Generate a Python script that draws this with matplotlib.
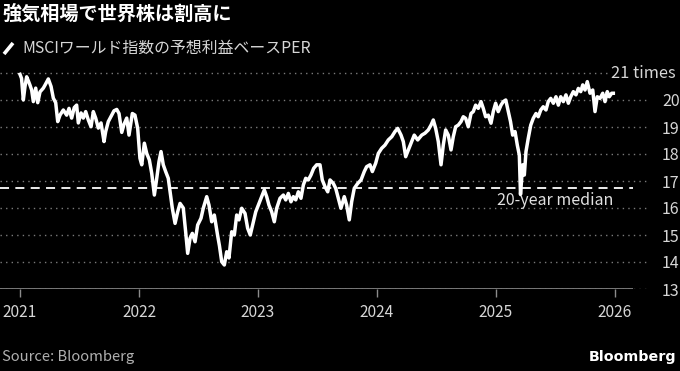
import matplotlib
matplotlib.use("Agg")
import matplotlib.pyplot as plt
import numpy as np

plt.rcParams['font.family'] = ['Noto Sans CJK JP', 'DejaVu Sans']

title = "強気相場で世界株は割高に"
legend_label = "MSCIワールド指数の予想利益ベースPER"
source = "Source: Bloomberg"
brand = "Bloomberg"
median_label = "20-year median"
top_label = "21 times"

# years elapsed since start of 2021
t_years = [0.000, 0.013, 0.028, 0.042, 0.056, 0.071, 0.084, 0.098, 0.112, 0.132,
           0.149, 0.168, 0.196, 0.210, 0.238, 0.261, 0.280, 0.300, 0.317, 0.336,
           0.364, 0.392, 0.412, 0.434, 0.456, 0.476, 0.490, 0.513, 0.532, 0.552,
           0.574, 0.597, 0.616, 0.636, 0.658, 0.681, 0.706, 0.720, 0.742, 0.771,
           0.790, 0.813, 0.832, 0.855, 0.874, 0.897, 0.916, 0.944, 0.966, 0.989,
           1.008, 1.023, 1.045, 1.065, 1.087, 1.107, 1.129, 1.149, 1.168, 1.185,
           1.204, 1.224, 1.246, 1.261, 1.280, 1.303, 1.325, 1.345, 1.372, 1.392,
           1.409, 1.429, 1.448, 1.471, 1.493, 1.521, 1.540, 1.569, 1.588, 1.611,
           1.633, 1.660, 1.676, 1.695, 1.717, 1.737, 1.756, 1.779, 1.801, 1.821,
           1.840, 1.863, 1.891, 1.913, 1.935, 1.961, 1.981, 2.003, 2.031, 2.053,
           2.073, 2.092, 2.115, 2.137, 2.157, 2.185, 2.213, 2.233, 2.255, 2.277,
           2.297, 2.317, 2.339, 2.361, 2.381, 2.401, 2.423, 2.445, 2.468, 2.493,
           2.521, 2.540, 2.563, 2.586, 2.605, 2.633, 2.653, 2.675, 2.697, 2.725,
           2.745, 2.767, 2.787, 2.809, 2.838, 2.866, 2.893, 2.913, 2.941, 2.961,
           2.989, 3.011, 3.039, 3.067, 3.095, 3.124, 3.151, 3.174, 3.202, 3.221,
           3.241, 3.263, 3.286, 3.313, 3.342, 3.376, 3.403, 3.431, 3.454, 3.473,
           3.493, 3.515, 3.538, 3.557, 3.577, 3.599, 3.622, 3.641, 3.661, 3.683,
           3.706, 3.725, 3.745, 3.767, 3.790, 3.809, 3.829, 3.851, 3.874, 3.893,
           3.913, 3.935, 3.958, 3.977, 3.997, 4.019, 4.042, 4.061, 4.082, 4.103,
           4.122, 4.140, 4.160, 4.179, 4.196, 4.206, 4.224, 4.238, 4.252, 4.271,
           4.292, 4.313, 4.336, 4.355, 4.376, 4.397, 4.420, 4.439, 4.460, 4.482,
           4.504, 4.524, 4.544, 4.566, 4.588, 4.608, 4.628, 4.650, 4.672, 4.692,
           4.712, 4.729, 4.748, 4.767, 4.790, 4.813, 4.832, 4.851, 4.874, 4.897,
           4.916, 4.935, 4.952, 4.972, 4.986]

per = [20.95, 20.80, 20.00, 20.50, 20.86, 20.70, 20.55, 20.37, 19.94, 20.44,
       19.90, 20.30, 20.44, 20.55, 20.78, 20.50, 20.07, 19.90, 19.20, 19.44,
       19.63, 19.44, 19.69, 19.33, 19.72, 19.81, 19.15, 19.52, 19.33, 19.57,
       19.26, 19.01, 19.57, 19.33, 18.96, 19.15, 18.46, 18.83, 19.20, 19.44,
       19.60, 19.65, 19.50, 18.80, 19.10, 19.33, 18.70, 19.50, 19.44, 18.95,
       17.84, 17.60, 18.40, 18.02, 17.78, 17.28, 16.48, 17.10, 17.72, 18.09,
       17.60, 17.35, 17.10, 16.60, 15.99, 15.43, 15.86, 16.17, 16.00, 15.12,
       14.32, 14.88, 15.06, 14.75, 15.37, 15.62, 15.99, 16.42, 16.11, 15.49,
       15.74, 15.00, 14.60, 14.01, 13.89, 14.38, 14.15, 15.12, 15.00, 15.74,
       15.56, 15.99, 15.80, 15.25, 15.00, 15.49, 15.86, 16.11, 16.42, 16.67,
       16.42, 16.11, 15.86, 15.49, 15.99, 16.36, 16.48, 16.30, 16.54, 16.23,
       16.42, 16.30, 16.60, 16.36, 16.85, 17.10, 17.04, 17.22, 17.47, 17.60,
       17.60, 17.04, 16.79, 16.60, 17.04, 16.91, 16.73, 16.36, 15.99, 16.42,
       16.11, 15.56, 16.23, 16.73, 16.91, 17.04, 17.35, 17.53, 17.60, 17.35,
       17.66, 18.02, 18.21, 18.33, 18.52, 18.64, 18.83, 18.95, 18.70, 18.46,
       17.90, 18.15, 18.40, 18.70, 18.52, 18.70, 18.77, 18.89, 19.07, 19.26,
       18.95, 18.46, 17.60, 18.33, 18.89, 18.70, 18.15, 18.64, 19.01, 19.07,
       19.20, 19.38, 19.32, 19.01, 19.50, 19.57, 19.81, 19.69, 19.94, 19.69,
       19.38, 19.44, 19.14, 19.57, 19.88, 19.57, 19.81, 19.94, 20.00, 19.57,
       19.20, 18.70, 18.83, 18.33, 17.96, 16.50, 17.60, 17.22, 18.09, 18.58,
       19.07, 19.32, 19.50, 19.38, 19.63, 19.75, 19.63, 19.94, 20.06, 19.88,
       20.12, 19.81, 20.12, 19.94, 20.19, 19.88, 20.12, 20.31, 20.19, 20.43,
       20.31, 20.56, 20.37, 20.68, 20.25, 20.37, 19.57, 20.12, 20.06, 20.25,
       19.94, 20.31, 20.12, 20.25, 20.25]

median_20y = 16.74
y_ticks = [13, 14, 15, 16, 17, 18, 19, 20]
x_ticks = [2021, 2022, 2023, 2024, 2025, 2026]

x = 2021 + np.array(t_years)
y = np.array(per)

W, H = 680, 371
fig = plt.figure(figsize=(W / 100, H / 100), dpi=100, facecolor='black')
ax = fig.add_axes([0, 82 / H, 648 / W, (289 - 67.6) / H])
ax.set_facecolor('black')

x_left = 2021 - 20 / 119
x_axis_end = 2021 + 613 / 119
ax.set_xlim(x_left, 2021 + 628 / 119)
ax.set_ylim(13, 21.2)

for s in ax.spines.values():
    s.set_visible(False)

# gridlines
for v in y_ticks + [21]:
    ax.axhline(v, color='#7a7a7a', lw=1.0, ls=(0, (1, 3)), zorder=1)

# bottom axis line
ax.hlines(13, x_left, x_axis_end, color='#8c8c8c', lw=1.2, zorder=2)

# median line
ax.hlines(median_20y, x_left, x_axis_end, color='white', lw=1.3,
          ls=(0, (5, 3.5)), zorder=3)
ax.annotate(median_label, xy=(x[-1], median_20y), xytext=(0, -3),
            textcoords='offset points', ha='right', va='top',
            color='#e0e0e0', fontsize=11.5, zorder=5)

ax.plot(x, y, color='white', lw=2.5, solid_joinstyle='round', zorder=4)

ax.set_xticks(x_ticks)
ax.set_xticklabels([str(v) for v in x_ticks])
ax.tick_params(axis='x', colors='#8c8c8c', length=6, width=1.0, direction='out',
               labelcolor='#d6d6d6', labelsize=11.2, pad=5)
ax.yaxis.tick_right()
ax.set_yticks(y_ticks)
ax.set_yticklabels([str(v) for v in y_ticks])
ax.tick_params(axis='y', length=0, labelcolor='#d6d6d6', labelsize=11.5, pad=10)

ax.text(1.0 + 28 / 648, 21, top_label, transform=ax.get_yaxis_transform(),
        ha='right', va='center', color='#d6d6d6', fontsize=11.8,
        bbox=dict(facecolor='black', edgecolor='none', pad=1.5), zorder=6,
        clip_on=False)

fig.text(2 / W, 1 - 14 / H, title, color='white', fontsize=13.8,
         fontweight='bold', ha='left', va='center')
fig.lines.append(plt.Line2D([4 / W, 13 / W], [1 - 54 / H, 1 - 43 / H],
                            transform=fig.transFigure, color='white', lw=2.6,
                            solid_capstyle='butt'))
fig.text(22 / W, 1 - 48 / H, legend_label, color='#d6d6d6', fontsize=11.4,
         ha='left', va='center')
fig.text(2 / W, 1 - 357 / H, source, color='#b0b0b0', fontsize=10.6,
         ha='left', va='center')
fig.text(676 / W, 1 - 357 / H, brand, color='white', fontsize=10.3,
         fontweight='bold', ha='right', va='center', family='DejaVu Sans')

fig.savefig('out.png', dpi=100, facecolor='black')
